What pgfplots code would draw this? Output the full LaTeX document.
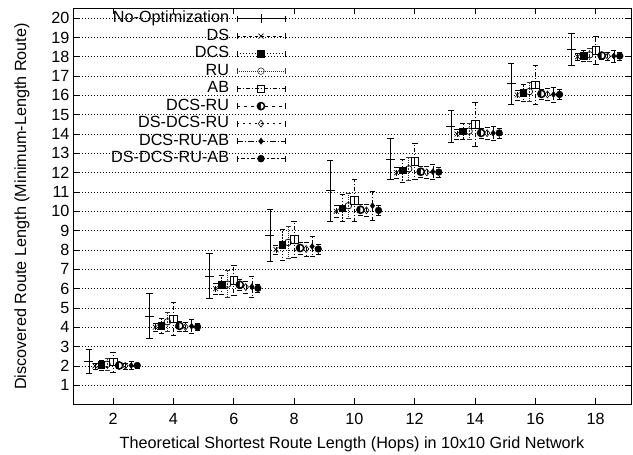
\documentclass[border=0pt]{standalone}
\usepackage{pgfplots}
\usepackage{pgfplotstable}
\pgfplotsset{compat=1.18}
\usepackage{fontspec}
\setmainfont{Liberation Sans}
\pgfplotsset{layers/mylayers/.define layer set={axis background,axis grid,legendbg,axis ticks,axis lines,axis tick labels,main,axis descriptions,axis foreground}{}}

\pgfplotstableread{
h  no    noe   ds    dse   dcs   dcse  ru    rue   ab    abe   dr    dre   ddr   ddre  dra   drae  all   alle
2  2.23  0.64  2.00  0.15  2.05  0.25  2.08  0.30  2.20  0.51  2.02  0.15  2.00  0.15  2.02  0.20  2.02  0.12
4  4.58  1.15  4.00  0.20  4.07  0.40  4.28  0.50  4.44  0.84  4.07  0.25  4.02  0.25  4.05  0.35  4.02  0.18
6  6.65  1.15  6.00  0.30  6.20  0.50  6.23  0.70  6.42  0.77  6.20  0.30  6.08  0.30  6.10  0.56  6.02  0.22
8  8.76  1.36  8.02  0.25  8.27  0.80  8.39  0.82  8.55  0.95  8.10  0.30  8.05  0.35  8.18  0.52  8.05  0.25
10 11.06 1.58  10.00 0.30  10.17 0.70  10.29 0.65  10.58 1.10  10.08 0.30  10.05 0.30  10.29 0.73  10.05 0.25
12 12.71 1.04  12.00 0.30  12.12 0.60  12.20 0.60  12.59 0.95  12.05 0.30  12.02 0.30  12.05 0.40  12.03 0.25
14 14.40 0.83  14.00 0.25  14.14 0.40  14.15 0.40  14.50 1.16  14.06 0.25  14.05 0.30  14.05 0.35  14.06 0.25
16 16.60 1.05  16.02 0.25  16.13 0.45  16.20 0.50  16.54 1.02  16.08 0.25  16.05 0.30  16.05 0.40  16.05 0.25
18 18.37 0.83  18.00 0.20  18.06 0.30  18.10 0.35  18.32 0.72  18.06 0.20  18.03 0.20  18.04 0.30  18.04 0.20
}\data

\begin{document}
\begin{tikzpicture}
\begin{axis}[
  set layers=mylayers,
  at={(73pt,50.5pt)}, anchor=south west,
  scale only axis, width=558pt, height=396pt,
  xmin=0.67, xmax=19.17, ymin=0, ymax=20.5,
  xtick={2,4,...,18}, ytick={1,2,...,20},
  tick align=inside, major tick length=6pt,
  axis line style={line width=1pt},
  tick style={black, line width=0.6pt},
  ymajorgrids,
  grid style={black, line width=0.7pt, dash pattern=on 1pt off 2pt},
  /pgf/number format/assume math mode=true,
  tick label style={font=\fontsize{16.2}{19}\selectfont},
  xticklabel style={yshift=-5.5pt},
  label style={font=\fontsize{16.2}{19}\selectfont},
  xlabel={Theoretical Shortest Route Length (Hops) in 10x10 Grid Network},
  ylabel={Discovered Route Length (Minimum-Length Route)},
  xlabel style={at={(axis description cs:0.5,-0.101)}, anchor=center},
  ylabel style={at={(axis description cs:-0.0914,0.5)}, anchor=center},
  legend cell align=right,
  legend plot pos=right,
  legend image code/.code={
    \draw[#1,mark repeat=2,mark phase=2] plot coordinates {(0pt,0pt)(24pt,0pt)(48pt,0pt)};
    \draw[#1,solid,mark=none] (0pt,-3pt)--(0pt,3pt) (48pt,-3pt)--(48pt,3pt);
  },
  legend style={at={(0.381,0.997)}, anchor=north east, draw=none, fill=none, inner sep=0pt,
    column sep=3pt,
    font=\fontsize{16.2}{19}\selectfont,
    nodes={text height=11.5pt, text depth=3pt, inner ysep=1.5pt, inner xsep=4.5pt}},
  every axis plot/.append style={black},
]
\begin{pgfonlayer}{legendbg}
\fill[white] (rel axis cs:0,1) rectangle (rel axis cs:0.389,0.61);
\end{pgfonlayer}

\addlegendimage{black, solid, line width=0.8pt, mark=+, mark size=4.5pt}
\addlegendentry{No-Optimization}
\addlegendimage{black, dashed, line width=0.6pt, mark=x, mark size=3.5pt, mark options={solid}}
\addlegendentry{DS}
\addlegendimage{black, dash pattern=on 1.5pt off 1.5pt, line width=0.6pt, mark=square*, mark size=3.3pt, mark options={solid}}
\addlegendentry{DCS}
\addlegendimage{black!80, dash pattern=on 1pt off 1pt, line width=0.6pt, mark=o, mark size=3.3pt, mark options={solid}}
\addlegendentry{RU}
\addlegendimage{black, dash pattern=on 4pt off 2pt on 1pt off 2pt, line width=0.6pt, mark=square, mark size=3.8pt, mark options={solid}}
\addlegendentry{AB}
\addlegendimage{black, dash pattern=on 3pt off 4pt, line width=0.6pt, mark=halfcircle*, mark size=3.6pt, mark options={solid, line width=1.5pt, rotate=90}}
\addlegendentry{DCS-RU}
\addlegendimage{black, dash pattern=on 2pt off 4pt, line width=0.6pt, mark=diamond, mark size=3.5pt, mark options={solid}}
\addlegendentry{DS-DCS-RU}
\addlegendimage{black, dash pattern=on 6pt off 2pt on 1pt off 2pt, line width=0.6pt, mark=diamond*, mark size=3pt, mark options={solid}}
\addlegendentry{DCS-RU-AB}
\addlegendimage{black, dash pattern=on 2pt off 2pt on 4pt off 2pt, line width=0.6pt, mark=*, mark size=3.4pt, mark options={solid}}
\addlegendentry{DS-DCS-RU-AB}

\addplot[forget plot, only marks, mark=+, mark size=4.5pt, mark options={solid, line width=0.8pt},
  error bars/.cd, y dir=both, y explicit, error bar style={solid, line width=0.8pt}, error mark options={rotate=90, mark size=3.2pt, line width=0.8pt}]
  table[x expr=\thisrow{h}-0.8, y=no, y error=noe] {\data};
\addplot[forget plot, only marks, mark=x, mark size=3.5pt, mark options={solid, line width=0.6pt},
  error bars/.cd, y dir=both, y explicit, error bar style={dashed, line width=0.6pt}, error mark options={rotate=90, mark size=2.5pt, solid}]
  table[x expr=\thisrow{h}-0.6, y=ds, y error=dse] {\data};
\addplot[forget plot, only marks, mark=square*, mark size=3.3pt, mark options={solid},
  error bars/.cd, y dir=both, y explicit, error bar style={dash pattern=on 1.5pt off 1.5pt, line width=0.6pt}, error mark options={rotate=90, mark size=2.5pt}]
  table[x expr=\thisrow{h}-0.4, y=dcs, y error=dcse] {\data};
\addplot[forget plot, only marks, mark=o, mark size=3.3pt, mark options={solid, line width=0.7pt},
  error bars/.cd, y dir=both, y explicit, error bar style={black!80, dash pattern=on 1pt off 1pt, line width=0.6pt}, error mark options={rotate=90, mark size=2.5pt}]
  table[x expr=\thisrow{h}-0.2, y=ru, y error=rue] {\data};
\addplot[forget plot, only marks, mark=square, mark size=3.8pt, mark options={solid, line width=0.7pt},
  error bars/.cd, y dir=both, y explicit, error bar style={dash pattern=on 4pt off 2pt on 1pt off 2pt, line width=0.6pt}, error mark options={rotate=90, mark size=2.8pt, solid, line width=0.7pt}]
  table[x expr=\thisrow{h}, y=ab, y error=abe] {\data};
\addplot[forget plot, only marks, mark=halfcircle*, mark size=3.6pt, mark options={solid, line width=1.5pt, rotate=90},
  error bars/.cd, y dir=both, y explicit, error bar style={dash pattern=on 3pt off 4pt, line width=0.6pt}, error mark options={rotate=90, mark size=2.5pt}]
  table[x expr=\thisrow{h}+0.2, y=dr, y error=dre] {\data};
\addplot[forget plot, only marks, mark=diamond, mark size=3.5pt, mark options={solid, line width=0.6pt},
  error bars/.cd, y dir=both, y explicit, error bar style={dash pattern=on 2pt off 4pt, line width=0.6pt}, error mark options={rotate=90, mark size=2.5pt}]
  table[x expr=\thisrow{h}+0.4, y=ddr, y error=ddre] {\data};
\addplot[forget plot, only marks, mark=diamond*, mark size=3pt, mark options={solid},
  error bars/.cd, y dir=both, y explicit, error bar style={dash pattern=on 6pt off 2pt on 1pt off 2pt, line width=0.6pt}, error mark options={rotate=90, mark size=2.5pt}]
  table[x expr=\thisrow{h}+0.6, y=dra, y error=drae] {\data};
\addplot[forget plot, only marks, mark=*, mark size=3.4pt, mark options={solid},
  error bars/.cd, y dir=both, y explicit, error bar style={dash pattern=on 2pt off 2pt on 4pt off 2pt, line width=0.6pt}, error mark options={rotate=90, mark size=2.5pt}]
  table[x expr=\thisrow{h}+0.8, y=all, y error=alle] {\data};
\end{axis}
\pgfresetboundingbox
\path[use as bounding box] (0,0) rectangle (633pt,455pt);
\end{tikzpicture}
\end{document}
